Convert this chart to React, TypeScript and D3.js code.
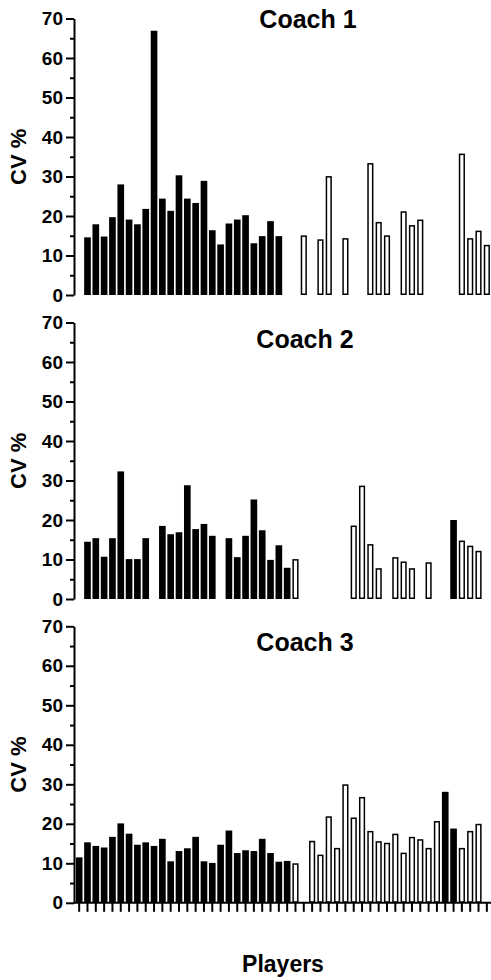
import React, { useEffect, useRef } from 'react';
import * as d3 from 'd3';

// players 1..50 on the shared x axis
const players = d3.range(1, 51).map(String);
const coaches = ['Coach 1', 'Coach 2', 'Coach 3'];
const yMajorTicks = [0, 10, 20, 30, 40, 50, 60, 70];
const yMinorTicks = [5, 15, 25, 35, 45, 55, 65];

const _ = null;

// CV % per player, black (solid) and white (open) bars
const coach1Solid = [
  _, 14.6, 17.9, 14.8, 19.7, 28.0, 19.1, 17.9, 21.8, 66.9,
  24.4, 21.3, 30.3, 24.4, 23.3, 28.9, 16.4, 12.8, 18.1, 19.1,
  20.2, 13.1, 14.9, 18.7, 14.9, _, _, _, _, _,
  _, _, _, _, _, _, _, _, _, _,
  _, _, _, _, _, _, _, _, _, _,
];
const coach1Open = [
  _, _, _, _, _, _, _, _, _, _,
  _, _, _, _, _, _, _, _, _, _,
  _, _, _, _, _, _, _, 15.1, _, 14.1,
  30.1, _, 14.4, _, _, 33.4, 18.5, 15.1, _, 21.2,
  17.7, 19.1, _, _, _, _, 35.8, 14.4, 16.3, 12.7,
];

const coach2Solid = [
  _, 14.5, 15.4, 10.7, 15.4, 32.3, 10.1, 10.1, 15.4, _,
  18.5, 16.4, 16.9, 28.8, 17.7, 19.0, 16.0, _, 15.4, 10.6,
  16.0, 25.2, 17.4, 9.9, 13.6, 7.9, _, _, _, _,
  _, _, _, _, _, _, _, _, _, _,
  _, _, _, _, _, 20.0, _, _, _, _,
];
const coach2Open = [
  _, _, _, _, _, _, _, _, _, _,
  _, _, _, _, _, _, _, _, _, _,
  _, _, _, _, _, _, 10.1, _, _, _,
  _, _, _, 18.6, 28.7, 13.9, 7.8, _, 10.6, 9.5,
  7.8, _, 9.3, _, _, _, 14.8, 13.5, 12.2, _,
];

const coach3Solid = [
  11.5, 15.3, 14.4, 14.0, 16.7, 20.1, 17.5, 14.7, 15.3, 14.4,
  16.2, 10.5, 13.1, 13.8, 16.7, 10.5, 10.1, 14.7, 18.3, 12.6,
  13.3, 13.1, 16.2, 12.6, 10.4, 10.6, _, _, _, _,
  _, _, _, _, _, _, _, _, _, _,
  _, _, _, _, 28.1, 18.8, _, _, _, _,
];
const coach3Open = [
  _, _, _, _, _, _, _, _, _, _,
  _, _, _, _, _, _, _, _, _, _,
  _, _, _, _, _, _, 10.0, _, 15.7, 12.2,
  21.9, 13.9, 30.0, 21.6, 26.8, 18.2, 15.6, 15.2, 17.5, 12.7,
  16.7, 16.1, 13.9, 20.7, _, _, 13.9, 18.2, 20.0, _,
];

const solidSeries = [coach1Solid, coach2Solid, coach3Solid];
const openSeries = [coach1Open, coach2Open, coach3Open];

const WIDTH = 491;
const HEIGHT = 980;
const FONT = '"Liberation Sans", Arial, Helvetica, sans-serif';

const App = () => {
  const svgRef = useRef<SVGSVGElement | null>(null);

  useEffect(() => {
    document.body.style.margin = '0';

    const svg = d3.select(svgRef.current);
    svg.selectAll('*').remove();

    // 레이아웃
    const axisX = 74;
    const panelTops = [18.5, 322.5, 626.3];
    const panelH = 276.5;
    const titleX = [308, 305, 305];
    const titleY = [28.3, 348.3, 650.7];

    const x = d3.scaleBand<string>()
      .domain(players)
      .range([75, WIDTH])
      .paddingInner(0.2)
      .paddingOuter(0.1);

    coaches.forEach((coach, pi) => {
      const top = panelTops[pi];
      const y = d3.scaleLinear().domain([0, 70]).range([top + panelH, top]);
      const g = svg.append('g');

      // solid bars
      g.append('g')
        .selectAll('rect')
        .data(players.map((p, i) => ({ p, v: solidSeries[pi][i] })).filter(d => d.v != null))
        .join('rect')
          .attr('x', d => x(d.p)!)
          .attr('width', x.bandwidth())
          .attr('y', d => y(d.v as number))
          .attr('height', d => y(0) - y(d.v as number))
          .attr('fill', '#000');

      // open bars
      g.append('g')
        .selectAll('rect')
        .data(players.map((p, i) => ({ p, v: openSeries[pi][i] })).filter(d => d.v != null))
        .join('rect')
          .attr('x', d => x(d.p)! + 1)
          .attr('width', x.bandwidth() - 2)
          .attr('y', d => y(d.v as number) + 0.75)
          .attr('height', d => y(0) - y(d.v as number) - 1.5)
          .attr('fill', '#fff')
          .attr('stroke', '#000')
          .attr('stroke-width', 1.5);

      // y axis, major ticks
      const yAxis = g.append('g')
        .attr('transform', `translate(${axisX},0)`)
        .call(d3.axisLeft(y).tickValues(yMajorTicks).tickSize(8).tickSizeOuter(0).tickPadding(3));
      yAxis.select('.domain').attr('stroke-width', 2).attr('stroke', '#000');
      yAxis.selectAll('.tick line').attr('stroke-width', 2).attr('stroke', '#000');
      yAxis.selectAll('.tick text')
        .attr('fill', '#000')
        .style('font-family', FONT)
        .style('font-size', '19px')
        .style('font-weight', 'bold');

      // minor ticks
      const yMinor = g.append('g')
        .attr('transform', `translate(${axisX},0)`)
        .call(d3.axisLeft(y).tickValues(yMinorTicks).tickSize(4).tickSizeOuter(0).tickFormat(() => ''));
      yMinor.select('.domain').remove();
      yMinor.selectAll('.tick line').attr('stroke-width', 2).attr('stroke', '#000');

      // y label
      g.append('text')
        .attr('transform', `translate(26,${top + panelH / 2}) rotate(-90)`)
        .attr('text-anchor', 'middle')
        .style('font-family', FONT)
        .style('font-size', '22px')
        .style('font-weight', 'bold')
        .text('CV %');

      // title
      g.append('text')
        .attr('x', titleX[pi])
        .attr('y', titleY[pi])
        .attr('text-anchor', 'middle')
        .style('font-family', FONT)
        .style('font-size', '25px')
        .style('font-weight', 'bold')
        .text(coach);

      // x axis only on the last panel
      if (pi === coaches.length - 1) {
        const xAxis = g.append('g')
          .attr('transform', `translate(0,${y(0)})`)
          .call(d3.axisBottom(x).tickSize(9).tickSizeOuter(0).tickFormat(() => ''));
        xAxis.select('.domain')
          .attr('d', `M${axisX},0H${WIDTH}`)
          .attr('stroke-width', 2)
          .attr('stroke', '#000');
        xAxis.selectAll('.tick line').attr('stroke-width', 2).attr('stroke', '#000');
      }
    });

    svg.append('text')
      .attr('x', 283)
      .attr('y', 972)
      .attr('text-anchor', 'middle')
      .style('font-family', FONT)
      .style('font-size', '23px')
      .style('font-weight', 'bold')
      .text('Players');
  }, []);

  return <svg ref={svgRef} width={WIDTH} height={HEIGHT} style={{ display: 'block', background: '#fff' }} />;
};

export default App;
